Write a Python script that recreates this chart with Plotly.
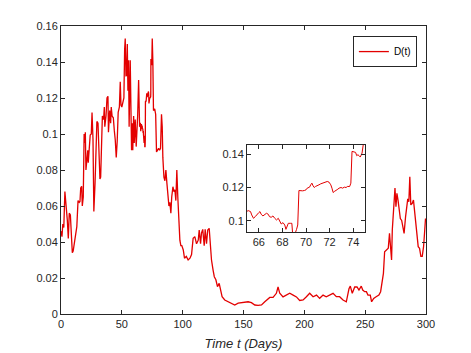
import plotly.graph_objects as go

# D(t), days 0-65
t_early = [0, 0.8, 1.5, 2.3, 3.2, 4.0, 4.6, 5.2, 6.0, 6.8, 7.7, 8.4, 9.3, 10.0, 11.0, 12.0, 13.0,
           14.0, 15.0, 15.6, 16.2, 17.0, 17.5, 18.3, 19.0, 19.6, 20.0, 20.5, 21.3, 22.0, 22.4, 23.0,
           24.0, 24.9, 25.5, 26.3, 27.0, 28.0, 28.7, 29.5, 30.4, 31.0, 32.0, 32.6, 33.4, 34.0, 35.0,
           35.6, 36.0, 37.0, 37.8, 38.6, 39.0, 40.0, 40.8, 41.3, 42.0, 43.0, 43.8, 44.6, 45.4, 46.2,
           47.0, 48.0, 48.7, 49.3, 50.0, 51.0, 51.7, 52.3, 52.8, 53.4, 53.9, 54.5, 55.0, 55.5, 56.0,
           56.9, 57.5, 58.0, 58.6, 59.0, 59.7, 60.2, 61.0, 61.8, 63.0, 63.8, 64.6]
d_early = [0.046, 0.043, 0.050, 0.048, 0.068, 0.062, 0.058, 0.052, 0.042, 0.056, 0.055, 0.043, 0.034,
           0.035, 0.039, 0.045, 0.0485, 0.063, 0.062, 0.0625, 0.070, 0.071, 0.060, 0.065, 0.100, 0.095,
           0.101, 0.080, 0.085, 0.091, 0.084, 0.091, 0.0994, 0.100, 0.112, 0.097, 0.057, 0.073, 0.091,
           0.107, 0.106, 0.087, 0.075, 0.076, 0.096, 0.110, 0.108, 0.115, 0.104, 0.110, 0.120, 0.121,
           0.101, 0.113, 0.106, 0.115, 0.110, 0.109, 0.102, 0.0967, 0.087, 0.096, 0.112, 0.115, 0.129,
           0.116, 0.115, 0.118, 0.120, 0.147, 0.153, 0.132, 0.133, 0.150, 0.124, 0.141, 0.104, 0.141,
           0.123, 0.091, 0.106, 0.091, 0.110, 0.095, 0.108, 0.093, 0.110, 0.130, 0.104]

# days 65-75, the zoomed window
t_zoom = [65.1, 65.3, 65.4, 65.55, 65.7, 65.8, 66.0, 66.1, 66.2, 66.35, 66.5, 66.65, 66.8, 66.9, 67.05,
          67.2, 67.35, 67.5, 67.65, 67.8, 67.9, 68.05, 68.2, 68.3, 68.4, 68.5, 68.7, 68.8, 68.86, 69.1,
          69.2, 69.3, 69.4, 69.5, 69.7, 69.86, 70.0, 70.1, 70.3, 70.4, 70.5, 70.6, 70.7, 70.8, 71.0,
          71.1, 71.25, 71.4, 71.5, 71.7, 71.8, 71.95, 72.1, 72.2, 72.3, 72.4, 72.55, 72.7, 72.8, 72.97,
          73.1, 73.25, 73.4, 73.5, 73.7, 73.8, 73.9, 74.1, 74.2, 74.3, 74.4, 74.5, 74.6, 74.75, 74.8, 74.9]
d_zoom = [0.1062, 0.1056, 0.1036, 0.1016, 0.1026, 0.1036, 0.1050, 0.1056, 0.1040, 0.1030, 0.1036,
          0.1046, 0.1040, 0.1026, 0.1022, 0.1030, 0.1016, 0.1006, 0.1016, 0.0996, 0.0982, 0.0990,
          0.0976, 0.0950, 0.0970, 0.0986, 0.0986, 0.0986, 0.0930, 0.0930, 0.0950, 0.0976, 0.1182,
          0.1180, 0.1180, 0.1182, 0.1186, 0.1196, 0.1202, 0.1216, 0.1226, 0.1210, 0.1200, 0.1206,
          0.1210, 0.1216, 0.1222, 0.1226, 0.1230, 0.1234, 0.1236, 0.1232, 0.1216, 0.1196, 0.1170,
          0.1176, 0.1186, 0.1190, 0.1196, 0.1200, 0.1196, 0.1202, 0.1200, 0.1206, 0.1206, 0.1226,
          0.1416, 0.1414, 0.1410, 0.1390, 0.1396, 0.1390, 0.1382, 0.1406, 0.1436, 0.1466]

# days 75-300
t_late = [75.0, 75.5, 76.0, 77.0, 77.8, 78.5, 79.4, 80.2, 81.0, 81.8, 82.6, 83.2, 83.7, 84.6, 85.4,
          86.2, 87.0, 87.8, 88.7, 89.5, 90.3, 91.0, 92.0, 92.8, 93.6, 94.4, 95.2, 96.0, 96.9, 97.7,
          98.5, 99.3, 100.5, 101.5, 103, 104.5, 106, 107.3, 108.6, 110, 111.4, 112.8, 113.6, 114.7,
          115.5, 116.5, 117.7, 118.5, 119.6, 120.6, 121.8, 122.6, 123.7, 125, 126, 127.3, 128.6, 130,
          131, 132.4, 134.6, 137.4, 140, 142.8, 145.6, 148.3, 151, 153.8, 156.5, 159.3, 162, 164.8,
          167.5, 168.9, 171.6, 174.3, 177, 178.4, 179.8, 182.5, 185.2, 188, 190.8, 193.5, 196.2, 199,
          201.7, 204.4, 207.2, 210, 212.6, 215.4, 218, 220.8, 223.6, 226.3, 229, 231.8, 234.5, 236.7,
          237.8, 239.4, 241.4, 243.3, 244.9, 246.8, 248, 249.6, 251, 252.3, 254.2, 255.3, 257, 259,
          261.3, 262.7, 264, 265, 266, 267.9, 269, 270, 271, 271.7, 272.3, 273.4, 274.5, 275.3, 276.1,
          277, 277.8, 278.9, 280, 281, 282, 283.2, 284.3, 285, 285.9, 286.7, 287.5, 288.7, 289.7,
          290.6, 291.7, 292.8, 293.6, 294.7, 295.8, 296.9, 298, 298.8, 299.6, 300]
d_late = [0.153, 0.140, 0.113, 0.114, 0.111, 0.090, 0.091, 0.092, 0.091, 0.092, 0.111, 0.104, 0.087,
          0.076, 0.074, 0.080, 0.073, 0.067, 0.060, 0.062, 0.056, 0.065, 0.0707, 0.068, 0.069, 0.063,
          0.080, 0.065, 0.050, 0.041, 0.038, 0.038, 0.0356, 0.031, 0.032, 0.030, 0.031, 0.033, 0.042,
          0.043, 0.039, 0.041, 0.0467, 0.039, 0.045, 0.047, 0.038, 0.047, 0.039, 0.0467, 0.0476, 0.038,
          0.030, 0.0244, 0.0207, 0.019, 0.0152, 0.017, 0.013, 0.0096, 0.0078, 0.0068, 0.006, 0.005,
          0.006, 0.0063, 0.0068, 0.0068, 0.0063, 0.005, 0.0048, 0.005, 0.0068, 0.0078, 0.0092, 0.0092,
          0.0115, 0.015, 0.0115, 0.0095, 0.0105, 0.0115, 0.0105, 0.0095, 0.0075, 0.0078, 0.0096,
          0.0115, 0.0096, 0.0105, 0.0087, 0.0105, 0.0096, 0.0105, 0.0115, 0.0096, 0.0096, 0.0078,
          0.0068, 0.014, 0.0155, 0.0115, 0.015, 0.015, 0.0133, 0.0155, 0.0133, 0.0124, 0.0124, 0.0105,
          0.0105, 0.0068, 0.0087, 0.0096, 0.0105, 0.0124, 0.017, 0.0226, 0.0346, 0.0355, 0.0365,
          0.0448, 0.0383, 0.030, 0.0467, 0.056, 0.070, 0.0596, 0.067, 0.0633, 0.0596, 0.053, 0.052,
          0.0476, 0.0448, 0.054, 0.0615, 0.064, 0.0624, 0.0763, 0.0606, 0.0615, 0.0633, 0.057, 0.0467,
          0.043, 0.0374, 0.0365, 0.032, 0.032, 0.0374, 0.045, 0.053, 0.052]

t = t_early + t_zoom + t_late
d = d_early + d_zoom + d_late

x_ticks = [0, 50, 100, 150, 200, 250, 300]
y_ticks = [0, 0.02, 0.04, 0.06, 0.08, 0.1, 0.12, 0.14, 0.16]
y_labels = ['0', '0.02', '0.04', '0.06', '0.08', '0.1', '0.12', '0.14', '0.16']
inset_x_ticks = [66, 68, 70, 72, 74]
inset_y_ticks = [0.1, 0.12, 0.14]
inset_y_labels = ['0.1', '0.12', '0.14']

red = '#e30000'
axcol = '#262626'
font = 'Liberation Sans, Arial, sans-serif'

fig = go.Figure()
fig.add_trace(go.Scatter(x=t, y=d, mode='lines', name='D(t)',
                         line=dict(color=red, width=1.3)))
fig.add_trace(go.Scatter(x=t, y=d, mode='lines', showlegend=False,
                         line=dict(color=red, width=1), xaxis='x2', yaxis='y2'))

axis_style = dict(showline=True, linecolor=axcol, linewidth=1, mirror='ticks',
                  ticks='inside', ticklen=4, tickcolor=axcol, showgrid=False,
                  zeroline=False, automargin=False,
                  tickfont=dict(size=11, color=axcol, family=font))

# the page body has an 8px margin, so the figure is 8px smaller than the window
fig.update_layout(
    width=463, height=345,
    margin=dict(l=53, r=45, t=18, b=39),
    paper_bgcolor='white', plot_bgcolor='white',
    font=dict(family=font, color=axcol),
    xaxis=dict(range=[0, 300], tickvals=x_ticks, domain=[0, 1],
               title=dict(text='<i>Time t (Days)</i>', font=dict(size=13), standoff=9),
               **axis_style),
    yaxis=dict(range=[0, 0.16], tickvals=y_ticks, ticktext=y_labels, domain=[0, 1], **axis_style),
    xaxis2=dict(range=[65, 75], tickvals=inset_x_ticks, domain=[0.5096, 0.8329],
                anchor='y2', **axis_style),
    yaxis2=dict(range=[0.0934, 0.1454], tickvals=inset_y_ticks, ticktext=inset_y_labels,
                domain=[0.2847, 0.5868], anchor='x2', **axis_style),
    legend=dict(x=0.975, y=0.965, xanchor='right', yanchor='top', bgcolor='white',
                bordercolor=axcol, borderwidth=1, font=dict(size=10, color='black'),
                itemwidth=30, tracegroupgap=0),
    showlegend=True,
)

fig.write_html("out.html")
